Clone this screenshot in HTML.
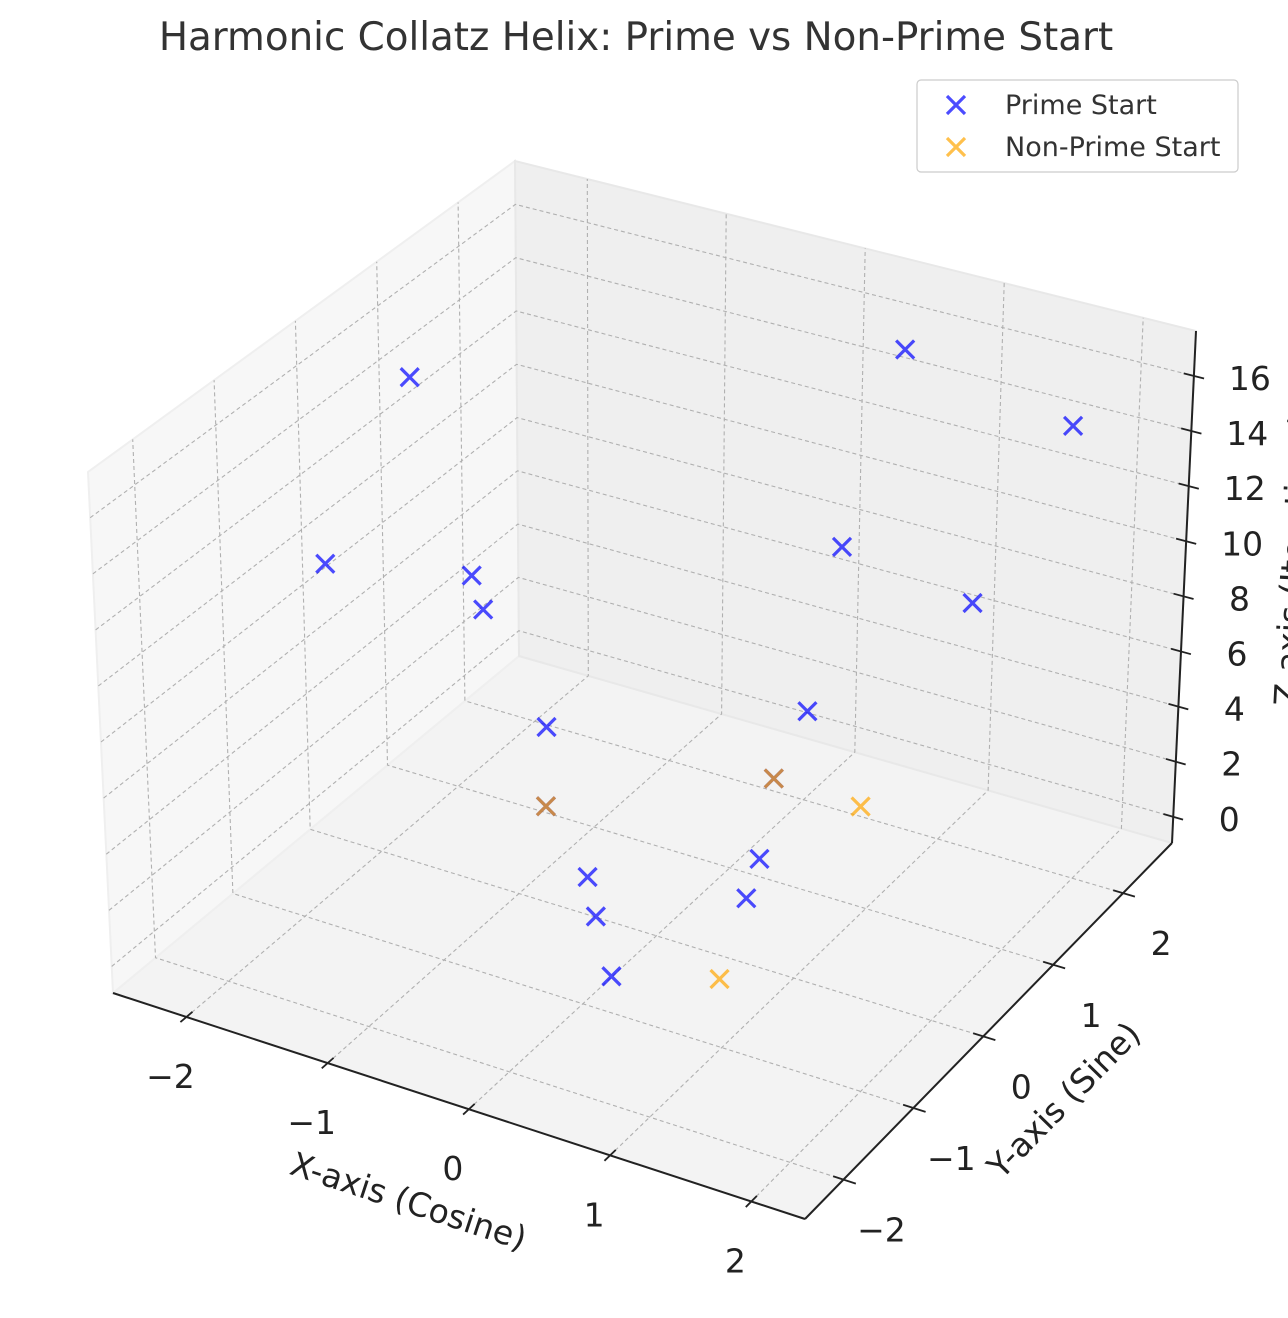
<!DOCTYPE html>
<html><head><meta charset="utf-8"><style>
body{margin:0;background:#fff;}
svg{display:block;font-family:"DejaVu Sans","Liberation Sans",sans-serif;}
</style></head><body>
<svg id="chart" width="1288" height="1318" viewBox="0 0 1288 1318" xmlns="http://www.w3.org/2000/svg">
<text x="636" y="50" text-anchor="middle" font-size="38.8" fill="#333">Harmonic Collatz Helix: Prime vs Non-Prime Start</text>
<g id="panes"></g><g id="grid"></g><g id="axes"></g><g id="marks"></g>
<g>
<rect x="917" y="80" width="321" height="92" rx="4" fill="#fff" stroke="#ccc" stroke-width="1.2"/>
<g>
<path d="M947,96 L965,114 M965,96 L947,114" stroke="blue" stroke-opacity="0.7" stroke-width="3.2"/>
<text x="1005" y="114" font-size="27" fill="#333">Prime Start</text></g>
<g>
<path d="M947,138 L965,156 M965,138 L947,156" stroke="orange" stroke-opacity="0.7" stroke-width="3.2"/>
<text x="1005" y="156" font-size="27" fill="#333">Non-Prime Start</text></g>
</g>
</svg>
<script>
const primeX=[-1.86,0.60,1.68,-2.17,-1.33,-1.41,0.48,1.22,0.30,-1.03,-0.40,-0.12,0.15,0.43,0.59,-1.23,-0.14];
const primeY=[0.24,2.15,2.41,-0.32,0.04,0.32,1.58,1.98,1.48,0.44,-0.18,-0.59,-0.89,0.60,0.12,0.78,1.85];
const primeZ=[16,16,14,10,10,8,10,8,4,4,1,1,0,1,1,0,0];
const nonPrimeX=[-1.23,-0.14,0.52,0.75];
const nonPrimeY=[0.78,1.85,1.82,-0.55];
const nonPrimeZ=[0,0,0,0];
const xTicks=[-2,-1,0,1,2];
const yTicks=[-2,-1,0,1,2];
const zTicks=[0,2,4,6,8,10,12,14,16];

const LIM={x0:-2.52,x1:2.38,y0:-2.55,y1:2.70,z0:-0.95,z1:17.63};
const K={c000:[113,993],c100:[805,1219],c110:[1172,843],c010:[519,656],c001:[88,472],c101:[803,688],c111:[1196,331],c011:[515,161]};
function projUVW(u,v,w){
  const r=[0,0];
  for(let i=0;i<2;i++){
    const b=(1-u)*(1-v)*K.c000[i]+u*(1-v)*K.c100[i]+u*v*K.c110[i]+(1-u)*v*K.c010[i];
    const t=(1-u)*(1-v)*K.c001[i]+u*(1-v)*K.c101[i]+u*v*K.c111[i]+(1-u)*v*K.c011[i];
    r[i]=b+(t-b)*w;
  }
  return r;
}
function U(x){return (x-LIM.x0)/(LIM.x1-LIM.x0);}
function V(y){return (y-LIM.y0)/(LIM.y1-LIM.y0);}
function W(z){return (z-LIM.z0)/(LIM.z1-LIM.z0);}
function proj(x,y,z){return projUVW(U(x),V(y),W(z));}
const NS="http://www.w3.org/2000/svg";
function mk(tag,attrs,parent){const e=document.createElementNS(NS,tag);for(const k in attrs)e.setAttribute(k,attrs[k]);parent.appendChild(e);return e;}
function pts(a){return a.map(p=>p[0].toFixed(1)+","+p[1].toFixed(1)).join(" ");}

const panes=document.getElementById("panes");
let el;
el=mk("polygon",{points:pts([projUVW(0,0,0),projUVW(1,0,0),projUVW(1,1,0),projUVW(0,1,0)]),fill:"#f3f3f3",stroke:"#ebebeb","stroke-width":2},panes);


el=mk("polygon",{points:pts([projUVW(0,0,0),projUVW(0,1,0),projUVW(0,1,1),projUVW(0,0,1)]),fill:"#f7f7f7",stroke:"#efefef","stroke-width":2},panes);


el=mk("polygon",{points:pts([projUVW(0,1,0),projUVW(1,1,0),projUVW(1,1,1),projUVW(0,1,1)]),fill:"#efefef",stroke:"#e8e8e8","stroke-width":2},panes);



const grid=document.getElementById("grid");
const gs={fill:"none",stroke:"#b0b0b0","stroke-width":1.1,"stroke-dasharray":"4,3"};
function gpoly(arr,name){const e=mk("polyline",Object.assign({points:pts(arr)},gs),grid);}
xTicks.forEach(t=>{const u=U(t);gpoly([projUVW(u,0,0),projUVW(u,1,0),projUVW(u,1,1)],'x-gridline');});
yTicks.forEach(t=>{const v=V(t);gpoly([projUVW(1,v,0),projUVW(0,v,0),projUVW(0,v,1)],'y-gridline');});
zTicks.forEach(t=>{const w=W(t);gpoly([projUVW(0,0,w),projUVW(0,1,w),projUVW(1,1,w)],'z-gridline');});

const axes=document.getElementById("axes");
function aline(a,b,name,wd){const e=mk("line",{x1:a[0],y1:a[1],x2:b[0],y2:b[1],stroke:"#222","stroke-width":wd},axes);}
function txt(x,y,s,name,extra){const e=mk("text",Object.assign({x:x,y:y,"text-anchor":"middle","font-size":33,fill:"#222"},extra||{}),axes);e.textContent=s;return e;}
aline(projUVW(0,0,0),projUVW(1,0,0),'x-axis-line',2);
aline(projUVW(1,0,0),projUVW(1,1,0),'y-axis-line',2);
aline(projUVW(1,1,0),projUVW(1,1,1),'z-axis-line',2);
function lab(t){return t<0?"\u2212"+Math.abs(t):String(t);}
xTicks.forEach(t=>{const u=U(t);const a=projUVW(u,0.015,0),b=projUVW(u,-0.015,0);aline(a,b,'x-tick',1.8);
  const p=projUVW(u,0,0);txt(p[0]-16,p[1]+71,lab(t),'x-tick-label');});
yTicks.forEach(t=>{const v=V(t);const a=projUVW(0.985,v,0),b=projUVW(1.018,v,0);aline(a,b,'y-tick',1.8);
  const p=projUVW(1,v,0);txt(p[0]+38,p[1]+62,lab(t),'y-tick-label');});
zTicks.forEach(t=>{const w=W(t);const a=projUVW(0.985,1,w),b=projUVW(1.015,1,w);aline(a,b,'z-tick',1.8);
  const p=projUVW(1,1,w);txt(p[0]+56,p[1]+14,lab(t),'z-tick-label');});
txt(405,1212,"X-axis (Cosine)",'x-axis-title',{transform:"rotate(18.2 405 1212)"});
txt(1072,1108,"Y-axis (Sine)",'y-axis-title',{transform:"rotate(-45.7 1072 1108)"});
txt(1305,560,"Z-axis (Iterations)",'z-axis-title',{transform:"rotate(-87 1305 560)"});

const marks=document.getElementById("marks");
function cross(x,y,z,color,name){
  const p=proj(x,y,z);const s=9;
  const e=mk("path",{d:`M${p[0]-s},${p[1]-s} L${p[0]+s},${p[1]+s} M${p[0]+s},${p[1]-s} L${p[0]-s},${p[1]+s}`,stroke:color,"stroke-opacity":0.7,"stroke-width":3.2,fill:"none"},marks);
  
  
}
primeX.forEach((x,i)=>cross(x,primeY[i],primeZ[i],"blue",'prime-point'));
nonPrimeX.forEach((x,i)=>cross(x,nonPrimeY[i],nonPrimeZ[i],"orange",'non-prime-point'));
</script>
</body></html>
